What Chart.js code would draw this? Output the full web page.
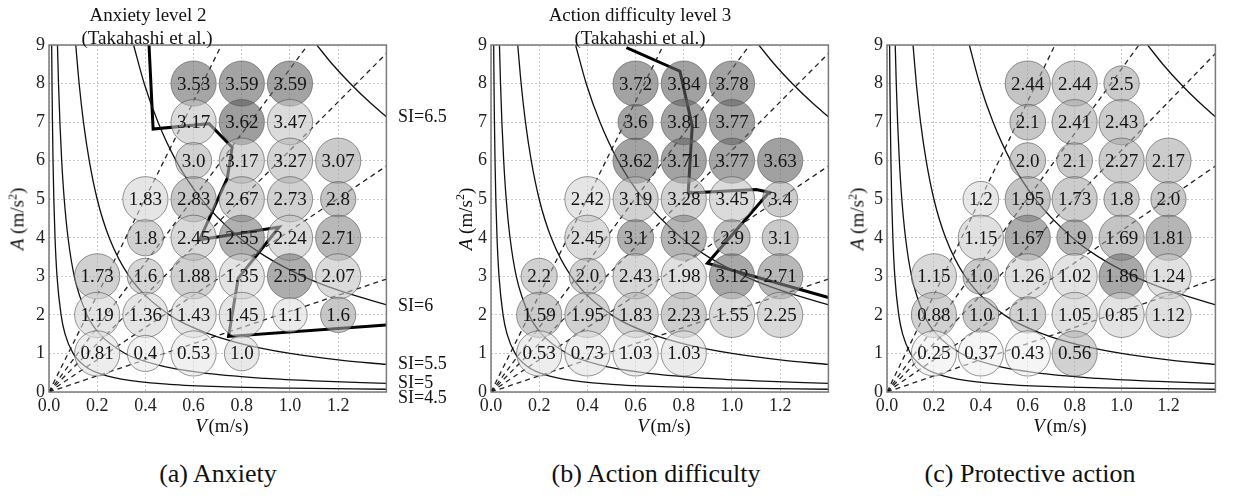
<!DOCTYPE html>
<html lang="en">
<head>
<meta charset="UTF-8">
<title>SI map: anxiety, action difficulty, protective action</title>
<script src="https://cdn.jsdelivr.net/npm/chart.js"></script>
<style>
  body { margin: 0; background: #fff; width: 1239px; height: 496px; position: relative; overflow: hidden;
         font-family: "Liberation Serif", "Times New Roman", serif; color: #111; }
  canvas { position: absolute; top: 0; }
  .t { position: absolute; white-space: nowrap; line-height: 1; transform: translate(-50%, -50%); }
  .si { position: absolute; left: 398px; white-space: nowrap; line-height: 1; transform: translateY(-50%); font-size: 18px; }
  .yl { position: absolute; top: 219px; white-space: nowrap; line-height: 1; font-size: 19px;
        transform: translate(-50%, -50%) rotate(-90deg); }
  .yl sup { font-size: 12px; line-height: 0; }
</style>
</head>
<body>
<canvas id="ca" width="410" height="420" style="left:0px"></canvas>
<canvas id="cb" width="410" height="420" style="left:442px"></canvas>
<canvas id="cc" width="401" height="420" style="left:838px"></canvas>

<div class="t" style="left:148px;top:14px;font-size:19px">Anxiety level 2</div>
<div class="t" style="left:147px;top:37px;font-size:19px">(Takahashi et al.)</div>
<div class="t" style="left:640px;top:14px;font-size:19px">Action difficulty level 3</div>
<div class="t" style="left:640px;top:37px;font-size:19px">(Takahashi et al.)</div>

<div class="si" style="top:116px">SI=6.5</div>
<div class="si" style="top:305px">SI=6</div>
<div class="si" style="top:363px">SI=5.5</div>
<div class="si" style="top:382px">SI=5</div>
<div class="si" style="top:397px">SI=4.5</div>

<div class="yl" style="left:17px"><i>A</i> (m/s<sup>2</sup>)</div>
<div class="yl" style="left:465px"><i>A</i> (m/s<sup>2</sup>)</div>
<div class="yl" style="left:857px"><i>A</i> (m/s<sup>2</sup>)</div>

<div class="t" style="left:222px;top:425px;font-size:19px"><i>V</i>&#8202;(m/s)</div>
<div class="t" style="left:664px;top:425px;font-size:19px"><i>V</i>&#8202;(m/s)</div>
<div class="t" style="left:1060px;top:425px;font-size:19px"><i>V</i>&#8202;(m/s)</div>

<div class="t" style="left:218px;top:474px;font-size:26px">(a) Anxiety</div>
<div class="t" style="left:656px;top:474px;font-size:26px">(b) Action difficulty</div>
<div class="t" style="left:1030px;top:474px;font-size:26px">(c) Protective action</div>

<script>
const FONT = '"Liberation Serif", "Times New Roman", serif';

// grid of the survey conditions
const speeds = [0.2, 0.4, 0.6, 0.8, 1.0, 1.2];
const accels = [8, 7, 6, 5, 4, 3, 2, 1];   // rows, top to bottom
const xTickLabels = ['0.0', '0.2', '0.4', '0.6', '0.8', '1.0', '1.2'];
const yTickLabels = ['0', '1', '2', '3', '4', '5', '6', '7', '8', '9'];

// (a) anxiety mean score, relative circle size, grey tone
const anxiety = [
  [null, null, 3.53, 3.59, 3.59, null],
  [null, null, 3.17, 3.62, 3.47, null],
  [null, null, 3.0, 3.17, 3.27, 3.07],
  [null, 1.83, 2.83, 2.67, 2.73, 2.8],
  [null, 1.8, 2.45, 2.55, 2.24, 2.71],
  [1.73, 1.6, 1.88, 1.35, 2.55, 2.07],
  [1.19, 1.36, 1.43, 1.45, 1.1, 1.6],
  [0.81, 0.4, 0.53, 1.0, null, null]
];
const anxietySize = [
  [0, 0, 1, 1, 1, 0],
  [0, 0, 1, 1, 1, 0],
  [0, 0, 0.8, 1, 1, 1],
  [0, 1, 1, 1, 1, 0.78],
  [0, 0.8, 1, 1, 1, 1],
  [1, 0.8, 1, 1, 1, 1],
  [1, 1, 1, 1, 0.76, 0.78],
  [1, 0.8, 1, 0.77, 0, 0]
];
const anxietyTone = [
  [0, 0, .35, .36, .36, 0],
  [0, 0, .14, .38, .14, 0],
  [0, 0, .18, .16, .17, .21],
  [0, .10, .22, .18, .18, .23],
  [0, .18, .15, .31, .14, .28],
  [.18, .16, .18, .11, .32, .14],
  [.10, .10, .10, .10, .08, .22],
  [.07, .05, .06, .09, 0, 0]
];

// (b) action difficulty
const difficulty = [
  [null, null, 3.72, 3.84, 3.78, null],
  [null, null, 3.6, 3.81, 3.77, null],
  [null, null, 3.62, 3.71, 3.77, 3.63],
  [null, 2.42, 3.19, 3.28, 3.45, 3.4],
  [null, 2.45, 3.1, 3.12, 2.9, 3.1],
  [2.2, 2.0, 2.43, 1.98, 3.12, 2.71],
  [1.59, 1.95, 1.83, 2.23, 1.55, 2.25],
  [0.53, 0.73, 1.03, 1.03, null, null]
];
const difficultySize = [
  [0, 0, 1, 1, 1, 0],
  [0, 0, 0.78, 1, 1, 0],
  [0, 0, 1, 1, 1, 1],
  [0, 1, 1, 1, 1, 0.78],
  [0, 1, 0.8, 1, 0.8, 0.8],
  [0.8, 0.8, 1, 1, 1, 1],
  [1, 1, 1, 1, 1, 1],
  [1, 1, 1, 1, 0, 0]
];
const difficultyTone = [
  [0, 0, .36, .37, .36, 0],
  [0, 0, .36, .36, .36, 0],
  [0, 0, .36, .36, .35, .37],
  [0, .10, .18, .18, .14, .20],
  [0, .14, .31, .29, .25, .21],
  [.18, .18, .16, .12, .34, .28],
  [.20, .18, .17, .20, .14, .15],
  [.07, .07, .07, .08, 0, 0]
];

// (c) protective action
const protective = [
  [null, null, 2.44, 2.44, 2.5, null],
  [null, null, 2.1, 2.41, 2.43, null],
  [null, null, 2.0, 2.1, 2.27, 2.17],
  [null, 1.2, 1.95, 1.73, 1.8, 2.0],
  [null, 1.15, 1.67, 1.9, 1.69, 1.81],
  [1.15, 1.0, 1.26, 1.02, 1.86, 1.24],
  [0.88, 1.0, 1.1, 1.05, 0.85, 1.12],
  [0.25, 0.37, 0.43, 0.56, null, null]
];
const protectiveSize = [
  [0, 0, 1, 1, 0.78, 0],
  [0, 0, 0.79, 1, 1, 0],
  [0, 0, 0.79, 0.79, 1, 1],
  [0, 0.79, 1, 1, 0.78, 0.78],
  [0, 1, 1, 0.79, 1, 1],
  [1, 0.79, 1, 1, 1, 1],
  [1, 0.79, 0.8, 1, 1, 1],
  [1, 1, 1, 1, 0, 0]
];
const protectiveTone = [
  [0, 0, .23, .20, .21, 0],
  [0, 0, .22, .20, .20, 0],
  [0, 0, .21, .21, .20, .20],
  [0, .09, .23, .20, .21, .22],
  [0, .12, .32, .29, .23, .29],
  [.15, .21, .12, .11, .34, .12],
  [.18, .20, .18, .12, .11, .12],
  [.04, .04, .04, .18, 0, 0]
];

// SI iso-lines (V, A)
const si45 = [[0.0111, 9], [0.0125, 8], [0.0143, 7], [0.0167, 6], [0.02, 5], [0.025, 4], [0.0333, 3], [0.05, 2],
  [0.0667, 1.5], [0.1, 1], [0.15, 0.667], [0.2, 0.5], [0.3, 0.333], [0.5, 0.2], [0.75, 0.133], [1.0, 0.1], [1.4, 0.0714]];
const si5 = [[0.0351, 9], [0.0395, 8], [0.0452, 7], [0.0527, 6], [0.0632, 5], [0.079, 4], [0.105, 3], [0.158, 2],
  [0.211, 1.5], [0.316, 1], [0.45, 0.703], [0.632, 0.5], [0.9, 0.351], [1.1, 0.287], [1.4, 0.226]];
const si55 = [[0.111, 9], [0.125, 8], [0.143, 7], [0.167, 6], [0.2, 5], [0.25, 4], [0.333, 3], [0.5, 2],
  [0.667, 1.5], [0.8, 1.25], [1.0, 1], [1.2, 0.833], [1.4, 0.714]];
const si6 = [[0.351, 9], [0.395, 8], [0.452, 7], [0.527, 6], [0.632, 5], [0.79, 4], [0.9, 3.51], [1.054, 3],
  [1.2, 2.64], [1.4, 2.26]];
const si65 = [[1.111, 9], [1.176, 8.5], [1.25, 8], [1.333, 7.5], [1.4, 7.14]];

// dashed rays from the origin, end points
const rayEnds = [[0.716, 9], [1.074, 9], [1.4, 8.78], [1.4, 5.86], [1.4, 2.93]];

// Takahashi et al. thresholds
const anxietyLevel2 = [[0.415, 9], [0.432, 6.82], [0.664, 6.96], [0.76, 6.35], [0.74, 5.55], [0.625, 3.95],
  [0.955, 4.28], [0.785, 2.95], [0.745, 1.44], [1.4, 1.74]];
const difficultyLevel3 = [[0.562, 8.93], [0.784, 8.32], [0.835, 6.9], [0.818, 5.16], [1.1, 5.25], [1.154, 5.18],
  [0.898, 3.34], [1.4, 2.45]];

const BIG_R = 22.6;
const ALPHA = 0.6;

function bubbleData(values, sizes, tones) {
  const out = [];
  accels.forEach((a, i) => speeds.forEach((v, j) => {
    if (values[i][j] == null) return;
    out.push({ x: v, y: a, r: BIG_R * sizes[i][j], value: values[i][j], tone: tones[i][j] });
  }));
  return out;
}

function xy(pts) {
  return pts.map(p => ({ x: p[0], y: p[1] }));
}

function lineSet(pts, extra) {
  return Object.assign({
    type: 'scatter',
    data: xy(pts),
    showLine: true,
    fill: false,
    pointRadius: 0,
    borderColor: '#111',
    borderWidth: 1.3,
    order: 2
  }, extra);
}

const frame = {
  id: 'frame',
  afterDatasetsDraw(chart) {
    const a = chart.chartArea, ctx = chart.ctx;
    ctx.save();
    ctx.strokeStyle = '#7a7a7a';
    ctx.lineWidth = 1.5;
    ctx.strokeRect(a.left, a.top, a.right - a.left, a.bottom - a.top);
    ctx.restore();
  }
};

const bubbleLabels = {
  id: 'bubbleLabels',
  afterDatasetsDraw(chart) {
    const ctx = chart.ctx;
    chart.data.datasets.forEach((ds, i) => {
      if (ds.type !== 'bubble') return;
      const meta = chart.getDatasetMeta(i);
      ctx.save();
      ctx.font = '19px ' + FONT;
      ctx.fillStyle = '#151515';
      ctx.textAlign = 'center';
      ctx.textBaseline = 'middle';
      meta.data.forEach((el, k) => {
        const v = ds.data[k].value;
        ctx.fillText(Number.isInteger(v) ? v.toFixed(1) : String(v), el.x, el.y + 1);
      });
      ctx.restore();
    });
  }
};

function makePanel(id, padRight, values, sizes, tones, threshold) {
  const datasets = [{
    type: 'bubble',
    data: bubbleData(values, sizes, tones),
    backgroundColor: ctx => {
      const g = Math.round(255 * (1 - ctx.raw.tone / ALPHA));
      return `rgba(${g},${g},${g},${ALPHA})`;
    },
    borderColor: 'rgba(80,80,80,0.6)',
    borderWidth: 1,
    order: 0
  }];
  [si45, si5, si55, si6, si65].forEach(c => datasets.push(lineSet(c, { cubicInterpolationMode: 'monotone' })));
  rayEnds.forEach(e => datasets.push(lineSet([[0, 0], e], {
    borderDash: [5, 4],
    borderColor: '#222',
    pointRadius: ctx => ctx.dataIndex === 0 ? 2.5 : 0,
    pointBackgroundColor: '#000',
    pointBorderWidth: 0
  })));
  if (threshold) {
    datasets.push(lineSet(threshold, { borderColor: '#000', borderWidth: 3, borderJoinStyle: 'miter', order: 3 }));
  }

  new Chart(document.getElementById(id), {
    type: 'scatter',
    data: { datasets: datasets },
    options: {
      responsive: false,
      animation: false,
      events: [],
      layout: { padding: { left: 0, right: padRight, top: 45, bottom: 0 } },
      plugins: { legend: { display: false }, tooltip: { enabled: false } },
      scales: {
        x: {
          type: 'linear', min: 0, max: 1.4,
          afterFit: s => { s.height = 28; },
          grid: { color: '#c8c8c8', lineWidth: 1, drawTicks: false },
          border: { display: false, dash: [2, 2] },
          ticks: {
            stepSize: 0.2, padding: 3, color: '#222', maxRotation: 0, autoSkip: false,
            font: { family: FONT, size: 18 },
            callback: v => {
              const i = Math.round(v / 0.2);
              return i < xTickLabels.length ? xTickLabels[i] : '';
            }
          }
        },
        y: {
          type: 'linear', min: 0, max: 9,
          afterFit: s => { s.width = 49; },
          grid: { color: '#c8c8c8', lineWidth: 1, drawTicks: false },
          border: { display: false, dash: [2, 2] },
          ticks: {
            stepSize: 1, padding: 4, color: '#222', autoSkip: false,
            font: { family: FONT, size: 18 },
            callback: v => yTickLabels[Math.round(v)]
          }
        }
      }
    },
    plugins: [frame, bubbleLabels]
  });
}

makePanel('ca', 15, anxiety, anxietySize, anxietyTone, anxietyLevel2);
makePanel('cb', 15, difficulty, difficultySize, difficultyTone, difficultyLevel3);
makePanel('cc', 6, protective, protectiveSize, protectiveTone, null);
</script>
</body>
</html>
